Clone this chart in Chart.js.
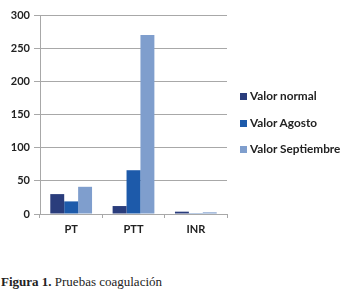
<!DOCTYPE html>
<html>
<head>
<meta charset="utf-8">
<script src="https://cdn.jsdelivr.net/npm/chart.js@4.4.1/dist/chart.umd.min.js"></script>
<style>
    body { margin: 0; background: #fff; width: 344px; height: 295px; overflow: hidden; position: relative; }
    #wrap { position: absolute; left: 0; top: 0; width: 344px; height: 240px; }
    .legend { position: absolute; left: 240px; top: 88px; font: bold 11.8px Lato, sans-serif; color: #222; }
    .legend div { height: 26.5px; white-space: nowrap; }
    .legend span { display: inline-block; width: 7px; height: 7px; margin-right: 3px; }
    .caption { position: absolute; left: 1px; top: 274px; font: 13px "Liberation Serif", serif; color: #222; }
</style>
</head>
<body>
<div id="wrap"><canvas id="chart" width="344" height="240"></canvas></div>
<div class="legend" id="legend"></div>
<div class="caption"><b>Figura 1.</b> Pruebas coagulación</div>
<script>
// Datos del gráfico
const categorias = ['PT', 'PTT', 'INR'];
const valorNormal = [30, 12, 3.5];
const valorAgosto = [19, 66, 1.2];
const valorSeptiembre = [41, 270, 2.5];
const marcasY = [0, 50, 100, 150, 200, 250, 300];

const series = [
    { label: 'Valor normal', data: valorNormal, color: '#2a3d7c' },
    { label: 'Valor Agosto', data: valorAgosto, color: '#1d5aaa' },
    { label: 'Valor Septiembre', data: valorSeptiembre, color: '#7f9ecd' }
];

// Leyenda en HTML
const legend = document.getElementById('legend');
series.forEach(s => {
    const item = document.createElement('div');
    item.innerHTML = '<span style="background:' + s.color + '"></span>' + s.label;
    legend.appendChild(item);
});

const fuenteEjes = { family: 'Lato, sans-serif', size: 11, weight: 'bold' };

new Chart(document.getElementById('chart'), {
    type: 'bar',
    data: {
        labels: categorias,
        datasets: series.map(s => ({
            label: s.label,
            data: s.data,
            backgroundColor: s.color,
            barPercentage: 1,
            categoryPercentage: 0.67
        }))
    },
    options: {
        responsive: false,
        animation: false,
        layout: { padding: { left: 0, right: 117, top: 15, bottom: 0 } },
        plugins: { legend: { display: false }, tooltip: { enabled: false } },
        scales: {
            x: {
                afterFit: function(scale) { scale.height = 26; },
                grid: { drawOnChartArea: false, drawTicks: true, tickLength: 4, color: '#a8a8a8', offset: true },
                border: { color: '#a8a8a8' },
                ticks: { color: '#222', font: fuenteEjes, padding: 5 }
            },
            y: {
                min: 0,
                max: 300,
                afterFit: function(scale) { scale.width = 40; },
                afterBuildTicks: function(scale) { scale.ticks = marcasY.map(v => ({ value: v })); },
                grid: { color: '#a8a8a8', tickLength: 6 },
                border: { color: '#a8a8a8' },
                ticks: { color: '#222', font: fuenteEjes, padding: 4 }
            }
        }
    }
});
</script>
</body>
</html>
